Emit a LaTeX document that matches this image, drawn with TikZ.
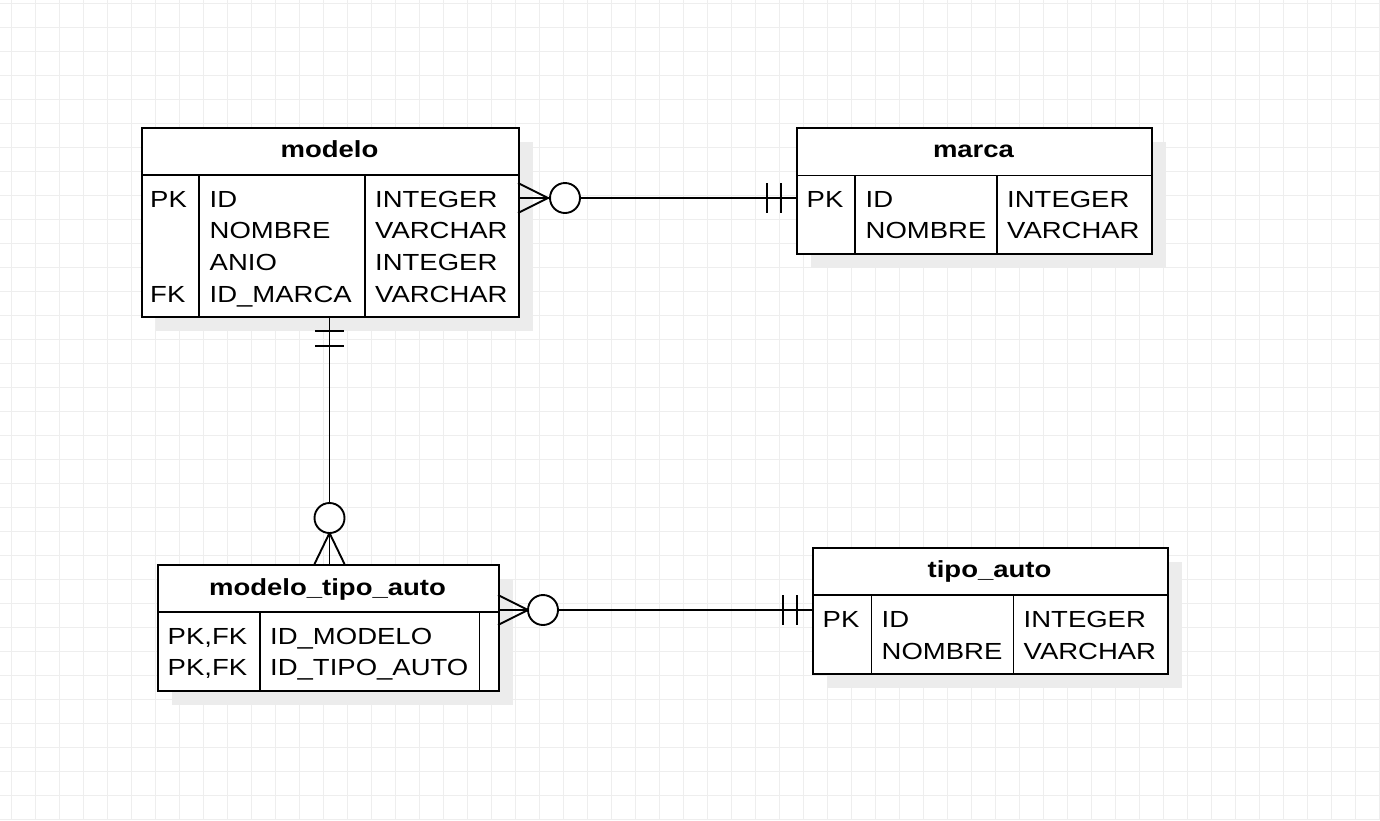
\documentclass[tikz,border=0pt]{standalone}
\usepackage{fontspec}
\setmainfont{Liberation Sans}[FakeStretch=1.18]
\usetikzlibrary{shadows}
\definecolor{gridc}{RGB}{238,238,238}
\definecolor{shadowc}{RGB}{236,236,236}
\tikzset{
  tablebox/.style={draw=black, line width=1.9pt, fill=white, rectangle, inner sep=0pt, anchor=north west,
    general shadow={fill=shadowc, shadow xshift=14pt, shadow yshift=-14pt}},
  inner/.style={draw=black, line width=1.9pt},
  cell/.style={anchor=base west, inner sep=0pt, font=\fontsize{23.3}{28}\selectfont},
  ttl/.style={anchor=base, inner sep=0pt, font=\fontsize{23.3}{28}\selectfont\bfseries},
  rel/.style={draw=black, line width=1.9pt},
  endmark/.style={draw=black, line width=1.9pt},
  ring/.style={draw=black, line width=1.9pt, fill=white},
}
\begin{document}
\begin{tikzpicture}[x=1pt,y=-1pt]
\useasboundingbox (0,0) rectangle (1380,820);
\fill[white] (0,0) rectangle (1380,820);
% grid
\foreach \k in {0,...,57} \draw[gridc, line width=1pt] (11.7+24*\k,0) -- (11.7+24*\k,820);
\foreach \k in {0,...,34} \draw[gridc, line width=1pt] (0,3.3+24*\k) -- (1380,3.3+24*\k);

% ---------- modelo ----------
\node[tablebox, minimum width=377pt, minimum height=189pt] (modelo) at (141,127) {};
\draw[inner] (141,175) -- (518,175);
\draw[inner] (199,175) -- (199,316);
\draw[inner] (365,175) -- (365,316);
\node[ttl] (modelo-t) at (329.5,157) {modelo};
\node[cell] (modelo-k1) at (150,207) {PK};
\node[cell] (modelo-k4) at (150,302) {FK};
\node[cell] (modelo-n1) at (209.5,207) {ID};
\node[cell] (modelo-n2) at (209.5,238.7) {NOMBRE};
\node[cell] (modelo-n3) at (209.5,270.4) {ANIO};
\node[cell] (modelo-n4) at (209.5,302) {ID\_MARCA};
\node[cell] (modelo-d1) at (375,207) {INTEGER};
\node[cell] (modelo-d2) at (375,238.7) {VARCHAR};
\node[cell] (modelo-d3) at (375,270.4) {INTEGER};
\node[cell] (modelo-d4) at (375,302) {VARCHAR};

% ---------- marca ----------
\node[tablebox, minimum width=355pt, minimum height=126pt] (marca) at (796,127) {};
\draw[inner] (796,175.5) -- (1151,175.5);
\draw[inner] (855,175.5) -- (855,253);
\draw[inner] (997,175.5) -- (997,253);
\node[ttl] (marca-t) at (973.5,157) {marca};
\node[cell] (marca-k1) at (806.5,207) {PK};
\node[cell] (marca-n1) at (865.5,207) {ID};
\node[cell] (marca-n2) at (865.5,238.7) {NOMBRE};
\node[cell] (marca-d1) at (1007,207) {INTEGER};
\node[cell] (marca-d2) at (1007,238.7) {VARCHAR};

% ---------- modelo_tipo_auto ----------
\node[tablebox, minimum width=341pt, minimum height=126pt] (mta) at (157,564) {};
\draw[inner] (157,612) -- (498,612);
\draw[inner] (260,612) -- (260,690);
\draw[inner] (479.5,612) -- (479.5,690);
\node[ttl] (mta-t) at (327.5,595) {modelo\_tipo\_auto};
\node[cell] (mta-k1) at (167.5,644) {PK,FK};
\node[cell] (mta-k2) at (167.5,675.5) {PK,FK};
\node[cell] (mta-n1) at (270,644) {ID\_MODELO};
\node[cell] (mta-n2) at (270,675.5) {ID\_TIPO\_AUTO};

% ---------- tipo_auto ----------
\node[tablebox, minimum width=355pt, minimum height=126pt] (tipo) at (812,547) {};
\draw[inner] (812,595) -- (1167,595);
\draw[inner] (871.5,595) -- (871.5,673);
\draw[inner] (1013.5,595) -- (1013.5,673);
\node[ttl] (tipo-t) at (989.5,577) {tipo\_auto};
\node[cell] (tipo-k1) at (822.5,627) {PK};
\node[cell] (tipo-n1) at (881.5,627) {ID};
\node[cell] (tipo-n2) at (881.5,659) {NOMBRE};
\node[cell] (tipo-d1) at (1023.5,627) {INTEGER};
\node[cell] (tipo-d2) at (1023.5,659) {VARCHAR};

% ---------- connector ends ----------
\coordinate (modelo-r) at (518,198);
\coordinate (marca-l) at (796,198);
\coordinate (modelo-b) at (329.5,316);
\coordinate (mta-top) at (329.5,564);
\coordinate (mta-r) at (498,610);
\coordinate (tipo-l) at (812,610);

% modelo -- marca
\draw[rel] (modelo-r) -- (marca-l);
\draw[endmark] ([yshift=15pt]modelo-r) -- ([xshift=30pt]modelo-r) -- ([yshift=-15pt]modelo-r);
\draw[ring] ([xshift=47pt]modelo-r) circle[radius=15pt];
\draw[endmark] ([xshift=-29pt,yshift=15pt]marca-l) -- ([xshift=-29pt,yshift=-15pt]marca-l);
\draw[endmark] ([xshift=-15pt,yshift=15pt]marca-l) -- ([xshift=-15pt,yshift=-15pt]marca-l);

% modelo -- modelo_tipo_auto
\draw[rel] (modelo-b) -- (mta-top);
\draw[endmark] ([xshift=-14.5pt,yshift=-15pt]modelo-b) -- ([xshift=14.5pt,yshift=-15pt]modelo-b);
\draw[endmark] ([xshift=-14.5pt,yshift=-30pt]modelo-b) -- ([xshift=14.5pt,yshift=-30pt]modelo-b);
\draw[endmark] ([xshift=-15pt]mta-top) -- ([yshift=31pt]mta-top) -- ([xshift=15pt]mta-top);
\draw[ring] ([yshift=46pt]mta-top) circle[radius=15pt];

% modelo_tipo_auto -- tipo_auto
\draw[rel] (mta-r) -- (tipo-l);
\draw[endmark] ([yshift=15pt]mta-r) -- ([xshift=30pt]mta-r) -- ([yshift=-15pt]mta-r);
\draw[ring] ([xshift=45pt]mta-r) circle[radius=15pt];
\draw[endmark] ([xshift=-29pt,yshift=15pt]tipo-l) -- ([xshift=-29pt,yshift=-15pt]tipo-l);
\draw[endmark] ([xshift=-15pt,yshift=15pt]tipo-l) -- ([xshift=-15pt,yshift=-15pt]tipo-l);
\end{tikzpicture}
\end{document}
